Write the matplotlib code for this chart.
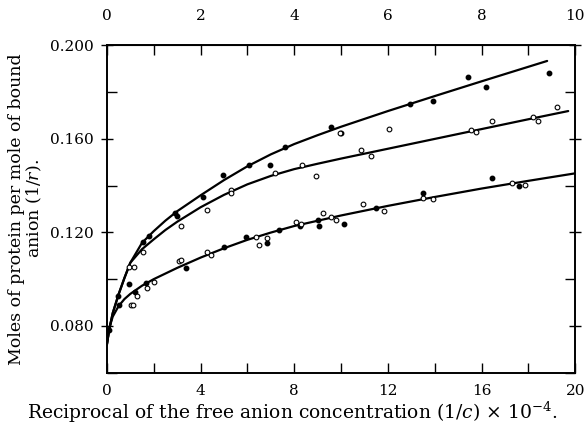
import matplotlib
matplotlib.use("Agg")
import matplotlib.pyplot as plt
from matplotlib.ticker import MultipleLocator

plt.rcParams['font.family'] = ['DejaVu Serif']
plt.rcParams['mathtext.fontset'] = 'dejavuserif'

# ---- data ----
# fitted curves (x = 1/c * 1e-4, y = 1/r)
curve_top_x = [0.0, 0.1, 0.25, 0.5, 0.75, 1.0, 1.5, 2.0, 2.5, 3.0, 4.0, 5.0, 6.0, 7.0, 8.0, 9.0, 10.0, 12.0, 14.0, 16.0, 18.8]
curve_top_y = [0.072, 0.0785, 0.0855, 0.0935, 0.1005, 0.107, 0.1155, 0.1205, 0.125, 0.129, 0.1358, 0.1423, 0.1482, 0.1533, 0.1577, 0.1615, 0.1651, 0.1718, 0.1782, 0.1845, 0.1932]

curve_mid_x = [0.0, 0.1, 0.25, 0.5, 0.75, 1.0, 1.5, 2.0, 2.5, 3.0, 4.0, 5.0, 6.0, 7.0, 8.0, 9.0, 10.0, 12.0, 14.0, 16.0, 18.0, 19.7]
curve_mid_y = [0.072, 0.0785, 0.0855, 0.0935, 0.1005, 0.107, 0.1128, 0.117, 0.121, 0.1245, 0.1307, 0.136, 0.1405, 0.1441, 0.1470, 0.1493, 0.1515, 0.1557, 0.1599, 0.1641, 0.1683, 0.1718]

curve_bot_x = [0.0, 0.1, 0.25, 0.5, 0.75, 1.0, 1.5, 2.0, 3.0, 4.0, 5.0, 6.0, 7.0, 8.0, 10.0, 12.0, 14.0, 16.0, 18.0, 20.0]
curve_bot_y = [0.072, 0.079, 0.084, 0.0885, 0.0915, 0.0937, 0.0972, 0.1000, 0.1048, 0.1092, 0.1132, 0.1168, 0.1199, 0.1227, 0.1272, 0.1313, 0.1351, 0.1387, 0.1420, 0.1452]

# measured points: filled dots
filled_x = [0.09, 0.47, 0.53, 0.94, 1.55, 1.82, 2.93, 2.98, 4.11, 4.97, 6.06, 6.95, 7.59, 9.55, 9.98,
            12.94, 13.93, 15.43, 16.21, 18.89,
            1.22, 1.65, 3.36, 5.02, 5.96, 6.84, 7.37, 8.24, 9.02, 9.05, 10.12, 11.51, 13.51, 16.45, 17.59]
filled_y = [0.0784, 0.0926, 0.0890, 0.0979, 0.1160, 0.1186, 0.1282, 0.1270, 0.1353, 0.1445, 0.1488, 0.1488, 0.1566, 0.1651, 0.1623,
            0.1747, 0.1761, 0.1865, 0.1819, 0.1879,
            0.0947, 0.0983, 0.1047, 0.1139, 0.1182, 0.1154, 0.1210, 0.1227, 0.1253, 0.1227, 0.1236, 0.1303, 0.1367, 0.1431, 0.1400]

# measured points: open circles
open_x = [0.94, 1.15, 1.55, 3.16, 4.26, 5.28, 5.32, 7.16, 8.34, 8.92, 9.95, 10.87, 11.26, 12.04, 15.57, 15.76,
          16.45, 18.20, 18.42, 19.24,
          1.01, 1.12, 1.29, 1.72, 2.00, 3.07, 3.17, 4.26, 4.43, 6.35, 6.49, 6.84, 8.06, 8.30, 9.22, 9.55, 9.79,
          10.94, 11.83, 13.51, 13.94, 17.28, 17.85]
open_y = [0.1054, 0.1054, 0.1118, 0.1225, 0.1296, 0.1381, 0.1367, 0.1455, 0.1488, 0.1441, 0.1624, 0.1552, 0.1528, 0.1640, 0.1637, 0.1627,
          0.1677, 0.1694, 0.1676, 0.1737,
          0.0890, 0.0890, 0.0926, 0.0962, 0.0990, 0.1079, 0.1082, 0.1118, 0.1104, 0.1179, 0.1146, 0.1175, 0.1246, 0.1235, 0.1284, 0.1267, 0.1253,
          0.1320, 0.1291, 0.1348, 0.1343, 0.1410, 0.1402]

y_ticks = [0.080, 0.120, 0.160, 0.200]
y_ticklabels = ["0.080", "0.120", "0.160", "0.200"]
x_ticks = [0, 4, 8, 12, 16, 20]
top_ticks = [0, 2, 4, 6, 8, 10]

fig = plt.figure(figsize=(5.84, 4.33), dpi=100)
ax = fig.add_axes([0.183, 0.139, 0.802, 0.757])

for cx, cy in [(curve_top_x, curve_top_y), (curve_mid_x, curve_mid_y), (curve_bot_x, curve_bot_y)]:
    ax.plot(cx, cy, color='black', lw=1.6, solid_capstyle='round', solid_joinstyle='round')

ax.plot(filled_x, filled_y, 'o', ms=3.2, color='black', mec='black', ls='none')
ax.plot(open_x, open_y, 'o', ms=3.4, mfc='white', mec='black', mew=0.8, ls='none')

ax.set_xlim(0, 20)
ax.set_ylim(0.060, 0.200)

ax.set_xticks(x_ticks)
ax.set_xticklabels([str(v) for v in x_ticks])
ax.xaxis.set_minor_locator(MultipleLocator(2))
ax.set_yticks(y_ticks)
ax.set_yticklabels(y_ticklabels)
ax.yaxis.set_minor_locator(MultipleLocator(0.02))

ax.tick_params(which='both', direction='in', width=1.0, labelsize=11, color='black')
ax.tick_params(which='major', length=7, pad=8)
ax.tick_params(which='minor', length=7)
ax.tick_params(axis='y', which='both', right=True)
ax.tick_params(axis='y', which='major', direction='inout', length=9, pad=5)
ax.tick_params(axis='x', which='both', top=False)

for s in ax.spines.values():
    s.set_linewidth(1.4)

sec = ax.secondary_xaxis('top', functions=(lambda v: v / 2.0, lambda v: v * 2.0))
sec.set_xticks(top_ticks)
sec.set_xticklabels([str(v) for v in top_ticks])
sec.xaxis.set_minor_locator(MultipleLocator(1))
sec.tick_params(which='both', direction='in', length=7, width=1.0, labelsize=11, pad=16)

fig.text(0.5, 0.048, "Reciprocal of the free anion concentration (1/$c$) $\\times$ 10$^{-4}$.",
         fontsize=13.5, ha='center', va='center')
ax.set_ylabel("Moles of protein per mole of bound\nanion (1/$r$).", fontsize=12.5,
              linespacing=1.0, labelpad=4)

fig.savefig("out.png", dpi=100)
